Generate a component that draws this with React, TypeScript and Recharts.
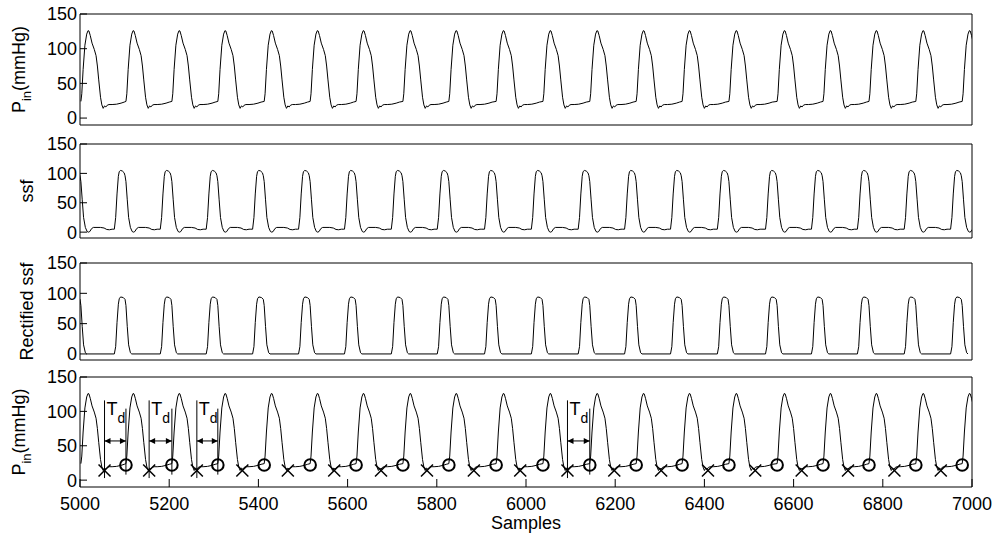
import React from 'react';
import { ComposedChart, Line, Scatter, XAxis, YAxis, ReferenceLine } from 'recharts';

const FONT = "'Liberation Sans', Arial, Helvetica, sans-serif";

// axis ticks
const xTicks = [5000, 5200, 5400, 5600, 5800, 6000, 6200, 6400, 6600, 6800, 7000];
const yTicks = [0, 50, 100, 150];

// pulse foot (onset) of each beat, in samples
const beatFeet = [5002, 5103, 5206, 5309, 5413, 5516, 5619, 5724, 5827, 5933, 6038, 6143, 6247, 6350, 6455, 6563, 6666, 6769, 6874, 6978];

// one beat of the pressure trace, offsets from the foot (samples) and mmHg
const pOffsets = [0, 2, 5, 9, 13, 16, 18, 21, 25, 30, 34, 37, 40, 44, 47, 50, 53, 56, 59, 63, 70, 80, 90, 97];
const pValues = [24, 35, 70, 105, 121, 126, 125.5, 119, 108, 99, 90, 75, 55, 30, 19, 14, 17.5, 16, 18.5, 19.5, 19.5, 20, 21.5, 23];

// slope sum function, same offsets scheme
const sOffsets = [-26, -23, -20, -17, -15, -12, -8, -4, -2, 0, 3, 6, 10, 14, 17, 20, 24, 28, 44, 52, 58, 64, 70, 74];
const sValues = [5, 25, 65, 95, 103, 105, 104, 101, 96, 86, 55, 25, 8, 1, 0, 1, 6, 8, 8, 7, 4.5, 4, 5, 5];

// rectified ssf
const rOffsets = [-26, -23, -20, -17, -15, -12, -6, -2, 0, 3, 6, 10, 13];
const rValues = [0, 12, 52, 82, 91, 94, 93, 90, 80, 45, 15, 2, 0];

// detected points in the bottom panel
const troughX = [5055, 5155, 5262, 5364, 5466, 5570, 5675, 5778, 5883, 5987, 6093, 6198, 6303, 6408, 6514, 6618, 6722, 6826, 6930];
const troughLevel = 14;
const onsetO = [5103, 5206, 5309, 5413, 5516, 5619, 5724, 5827, 5933, 6038, 6143, 6247, 6350, 6455, 6563, 6666, 6769, 6874, 6978];
const onsetLevel = 22;

// T_d annotations: [trough, onset]
const tdPairs = [[5055, 5103], [5155, 5206], [5262, 5309], [6093, 6143]];
const tdArrowLevel = 57;

const buildSeries = (offs: number[], vals: number[]) =>
  beatFeet
    .flatMap((f) => offs.map((o, i) => ({ x: f + o, v: vals[i] })))
    .sort((a, b) => a.x - b.x);

const pData = buildSeries(pOffsets, pValues);
const sData = buildSeries(sOffsets, sValues);
const rData = buildSeries(rOffsets, rValues);
const xMarks = troughX.map((x) => ({ x, v: troughLevel }));
const oMarks = onsetO.map((x) => ({ x, v: onsetLevel }));

const tickStyle = { fill: '#000', fontSize: 18, fontFamily: FONT };

const yLabel = (main: string, sub?: string, rest?: string, bx = 33) => (props: any) => {
  const vb = props.viewBox || {};
  const cy = vb.y + vb.height / 2;
  return (
    <text
      transform={`translate(${bx},${cy}) rotate(-90)`}
      textAnchor="middle"
      fontFamily={FONT}
      fontSize={18}
      fill="#000"
    >
      {main}
      {sub && (
        <tspan dy={6} fontSize={13}>
          {sub}
        </tspan>
      )}
      {rest && <tspan dy={-6}>{rest}</tspan>}
    </text>
  );
};

const CrossShape = (p: any) => (
  <g stroke="#000" strokeWidth={1.5}>
    <line x1={p.cx - 6} y1={p.cy - 6} x2={p.cx + 6} y2={p.cy + 6} />
    <line x1={p.cx - 6} y1={p.cy + 6} x2={p.cx + 6} y2={p.cy - 6} />
  </g>
);

const RingShape = (p: any) => <circle cx={p.cx} cy={p.cy} r={5.8} fill="none" stroke="#000" strokeWidth={2} />;

const TdArrow = (p: any) => {
  const { x1, x2, y1 } = p;
  const a = Math.min(x1, x2);
  const b = Math.max(x1, x2);
  return (
    <g>
      <line x1={a} y1={y1} x2={b} y2={y1} stroke="#000" strokeWidth={1} />
      <polygon points={`${a},${y1} ${a + 6},${y1 - 3} ${a + 6},${y1 + 3}`} fill="#000" />
      <polygon points={`${b},${y1} ${b - 6},${y1 - 3} ${b - 6},${y1 + 3}`} fill="#000" />
      <text x={a + 2} y={y1 - 26} fontFamily={FONT} fontSize={18} fill="#000">
        T
        <tspan dy={8} fontSize={14}>d</tspan>
      </text>
    </g>
  );
};

interface PanelProps {
  top: number;
  h: number;
  bottomH: number;
  showX?: boolean;
  label: any;
  children: React.ReactNode;
}

const PAD = 12;

const Panel = ({ top, h, bottomH, showX, label, children }: PanelProps) => (
  <div style={{ position: 'absolute', left: 0, top: top - 1 - PAD }}>
    <ComposedChart
      width={996}
      height={PAD + 1 + h + bottomH + (showX ? 0 : PAD)}
      margin={{ top: PAD, right: 0, bottom: showX ? 0 : PAD, left: 0 }}
    >
      <XAxis
        xAxisId="t"
        orientation="top"
        type="number"
        domain={[5000, 7000]}
        allowDataOverflow
        ticks={xTicks}
        interval={0}
        height={1}
        tick={false}
        tickSize={-8}
        stroke="#000"
      />
      <XAxis
        xAxisId="b"
        dataKey="x"
        type="number"
        domain={[5000, 7000]}
        allowDataOverflow
        ticks={xTicks}
        interval={0}
        height={bottomH}
        tick={showX ? tickStyle : false}
        tickSize={-8}
        tickMargin={18}
        stroke="#000"
        label={
          showX
            ? { value: 'Samples', position: 'insideBottom', offset: 9, fill: '#000', fontSize: 18, fontFamily: FONT }
            : undefined
        }
      />
      <YAxis
        yAxisId="l"
        dataKey="v"
        type="number"
        domain={[-10, 150]}
        allowDataOverflow
        ticks={yTicks}
        interval={0}
        width={80}
        tick={tickStyle}
        tickSize={-7}
        tickMargin={10}
        stroke="#000"
        label={label}
      />
      <YAxis
        yAxisId="r"
        orientation="right"
        type="number"
        domain={[-10, 150]}
        allowDataOverflow
        ticks={yTicks}
        interval={0}
        width={24}
        tick={false}
        tickSize={-7}
        stroke="#000"
      />
      {children}
    </ComposedChart>
  </div>
);

export default function App() {
  return (
    <div style={{ position: 'absolute', left: 0, top: 0, width: 996, height: 538, background: '#fff' }}>
      <Panel top={14} h={111} bottomH={1} label={yLabel('P', 'in', '(mmHg)', 25)}>
        <Line data={pData} dataKey="v" xAxisId="b" yAxisId="l" type="linear" dot={false} stroke="#000" strokeWidth={1} isAnimationActive={false} />
      </Panel>
      <Panel top={144} h={94} bottomH={1} label={yLabel('ssf')}>
        <Line data={sData} dataKey="v" xAxisId="b" yAxisId="l" type="linear" dot={false} stroke="#000" strokeWidth={1} isAnimationActive={false} />
      </Panel>
      <Panel top={263} h={97} bottomH={1} label={yLabel('Rectified ssf')}>
        <Line data={rData} dataKey="v" xAxisId="b" yAxisId="l" type="linear" dot={false} stroke="#000" strokeWidth={1} isAnimationActive={false} />
      </Panel>
      <Panel top={377} h={110} bottomH={51} showX label={yLabel('P', 'in', '(mmHg)', 25)}>
        <Line data={pData} dataKey="v" xAxisId="b" yAxisId="l" type="linear" dot={false} stroke="#000" strokeWidth={1} isAnimationActive={false} />
        {tdPairs.map(([a, b]) => (
          <React.Fragment key={a}>
            <ReferenceLine xAxisId="b" yAxisId="l" segment={[{ x: a, y: 3 }, { x: a, y: 116 }]} stroke="#000" strokeWidth={1} />
            <ReferenceLine xAxisId="b" yAxisId="l" segment={[{ x: b, y: 8 }, { x: b, y: 104 }]} stroke="#000" strokeWidth={1} />
            <ReferenceLine
              xAxisId="b"
              yAxisId="l"
              segment={[{ x: a, y: tdArrowLevel }, { x: b, y: tdArrowLevel }]}
              shape={TdArrow}
            />
          </React.Fragment>
        ))}
        <Scatter data={xMarks} xAxisId="b" yAxisId="l" shape={CrossShape} isAnimationActive={false} />
        <Scatter data={oMarks} xAxisId="b" yAxisId="l" shape={RingShape} isAnimationActive={false} />
      </Panel>
    </div>
  );
}
